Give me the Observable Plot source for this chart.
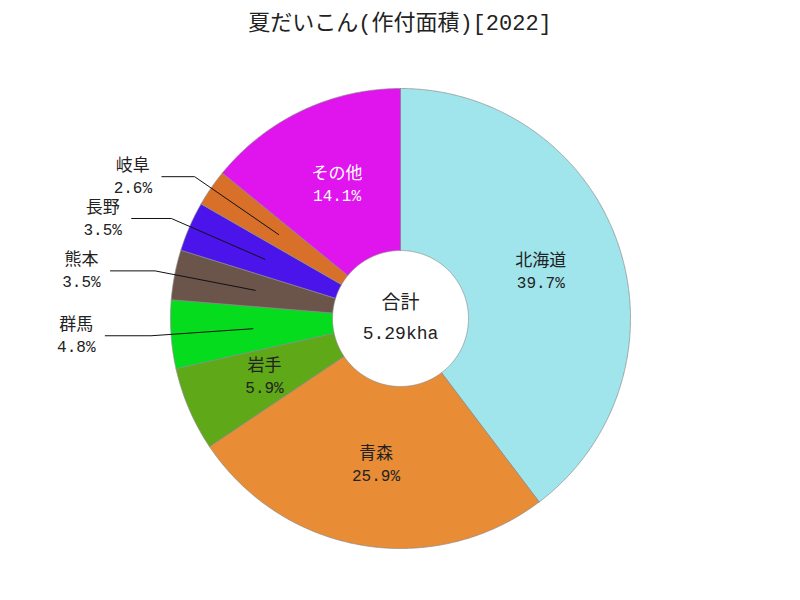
<!DOCTYPE html>
<html><head><meta charset="utf-8">
<script src="https://cdn.jsdelivr.net/npm/d3@7"></script>
<script src="https://cdn.jsdelivr.net/npm/@observablehq/plot@0.6"></script>
<style>
body{margin:0;background:#fff;}
#title{height:50px;line-height:50px;text-align:center;font-family:"Liberation Mono","Noto Sans CJK JP",sans-serif;font-size:22px;color:#222;}
#chart svg{display:block;}
</style></head><body>
<div id="title">夏だいこん(作付面積)[2022]</div>
<div id="chart"></div>
<script>
// ---- data ----
const names = ["北海道", "青森", "岩手", "群馬", "熊本", "長野", "岐阜", "その他"];
const shares = [39.7, 25.9, 5.9, 4.8, 3.5, 3.5, 2.6, 14.1];
const colors = ["#a0e5ec", "#e88c35", "#5fa818", "#05dc1e", "#6b544a", "#4a14ea", "#d8702a", "#e014ec"];
const labelColors = ["#222222", "#222222", "#222222", "#222222", "#222222", "#222222", "#222222", "#ffffff"];
const outsideNames = ["群馬", "熊本", "長野", "岐阜"];
const centerTitle = "合計";
const centerValue = "5.29kha";

// ---- layout ----
const R = 230, R0 = 68, RL = 148, RE = 250, TX = 325;
const FONT = '"Liberation Mono","Noto Sans CJK JP",sans-serif';
const total = d3.sum(shares);
const pt = (r, a) => ({x: r * Math.sin(a), y: -r * Math.cos(a)});

let cum = 0;
const slices = names.map((name, i) => {
  const a0 = cum / total * 2 * Math.PI;
  cum += shares[i];
  const a1 = cum / total * 2 * Math.PI;
  return {name, share: shares[i], a0, a1, mid: (a0 + a1) / 2, color: colors[i], tc: labelColors[i]};
});

const poly = [];
for (const s of slices) {
  const n = Math.max(4, Math.ceil((s.a1 - s.a0) / 0.005));
  const pts = [];
  for (let k = 0; k <= n; k++) pts.push(pt(R, s.a0 + (s.a1 - s.a0) * k / n));
  for (let k = n; k >= 0; k--) pts.push(pt(R0, s.a0 + (s.a1 - s.a0) * k / n));
  pts.push(pts[0]);
  for (const p of pts) poly.push({name: s.name, x: p.x, y: p.y});
}

const inside = slices.filter(s => !outsideNames.includes(s.name)).map(s => ({...s, ...pt(RL, s.mid)}));
const outside = slices.filter(s => outsideNames.includes(s.name));
const leaders = [];
const outLabels = [];
for (const s of outside) {
  const p1 = pt(RL, s.mid), p2 = pt(RE, s.mid);
  const tx = TX * Math.sin(s.mid);
  leaders.push({name: s.name, ...p1}, {name: s.name, ...p2}, {name: s.name, x: tx + 29, y: p2.y});
  outLabels.push({...s, x: tx, y: p2.y});
}

const chart = Plot.plot({
  width: 800, height: 550, margin: 0,
  x: {domain: [-400, 400], range: [0, 800], axis: null},
  y: {domain: [-268, 282], range: [0, 550], axis: null},
  color: {domain: names, range: colors},
  marks: [
    Plot.line(poly, {x: "x", y: "y", z: "name", fill: "name", stroke: "#8a8a8a", strokeWidth: 0.7, curve: "linear"}),
    Plot.line(leaders, {x: "x", y: "y", z: "name", stroke: "#111", strokeWidth: 1}),
    Plot.text(inside, {x: "x", y: "y", text: "name", dy: -11, fill: "tc", fontSize: 17, fontFamily: FONT}),
    Plot.text(inside, {x: "x", y: "y", text: d => d.share.toFixed(1) + "%", dy: 11, fill: "tc", fontSize: 16, fontFamily: FONT}),
    Plot.text(outLabels, {x: "x", y: "y", text: "name", dy: -11, fill: "#222", fontSize: 17, fontFamily: FONT}),
    Plot.text(outLabels, {x: "x", y: "y", text: d => d.share.toFixed(1) + "%", dy: 11, fill: "#222", fontSize: 16, fontFamily: FONT}),
    Plot.text([centerTitle], {x: 0, y: 0, text: d => d, dy: -16, fill: "#222", fontSize: 19, fontFamily: FONT}),
    Plot.text([centerValue], {x: 0, y: 0, text: d => d, dy: 15, fill: "#222", fontSize: 18, fontFamily: FONT})
  ]
});
document.getElementById("chart").appendChild(chart);
</script>
</body></html>
